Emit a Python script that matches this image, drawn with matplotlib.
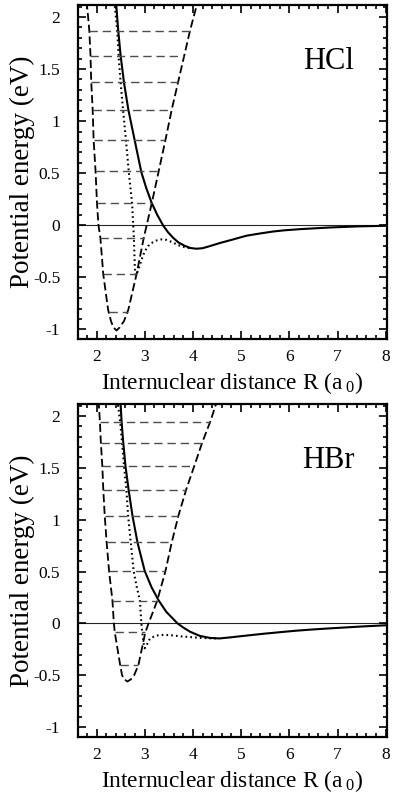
#!/usr/bin/env python3
"""
Potential energy curves of HCl and HBr vs internuclear distance
"""

import numpy as np
import matplotlib
matplotlib.use('Agg')
import matplotlib.pyplot as plt
from matplotlib.ticker import MultipleLocator

plt.rcParams['font.family'] = ['Liberation Serif', 'DejaVu Serif']
plt.rcParams['mathtext.fontset'] = 'custom'
plt.rcParams['mathtext.rm'] = 'Liberation Serif'
plt.rcParams['mathtext.it'] = 'Liberation Serif:italic'
plt.rcParams['axes.unicode_minus'] = False

# ---- HCl (top panel) ----
hcl_dash_R = [1.79, 1.81, 1.85, 1.875, 1.89, 1.92, 1.94, 1.98, 2.01, 2.04, 2.08,
              2.14, 2.24, 2.30, 2.35, 2.415, 2.48, 2.57, 2.66, 2.83, 2.98, 3.14,
              3.29, 3.43, 3.56, 3.69, 3.81, 3.94, 4.06, 4.10]
hcl_dash_E = [2.15, 2.08, 1.87, 1.63, 1.38, 1.11, 0.82, 0.52, 0.21, 0.0, -0.12,
              -0.47, -0.81, -0.92, -0.98, -1.01, -0.98, -0.92, -0.81, -0.47, -0.12, 0.20,
              0.52, 0.82, 1.11, 1.37, 1.61, 1.87, 2.08, 2.15]
hcl_solid_R = [2.40, 2.41, 2.45, 2.50, 2.57, 2.66, 2.79, 2.93, 3.03, 3.14, 3.26,
               3.38, 3.48, 3.59, 3.70, 3.83, 3.95, 4.07, 4.20, 4.35, 4.56, 4.80,
               5.11, 5.40, 5.66, 5.90, 6.22, 6.84, 7.46, 8.1]
hcl_solid_E = [2.15, 2.11, 1.87, 1.63, 1.37, 1.11, 0.82, 0.51, 0.36, 0.22, 0.10,
               0.0, -0.065, -0.12, -0.165, -0.197, -0.218, -0.225, -0.22, -0.20, -0.17, -0.14,
               -0.10, -0.078, -0.06, -0.048, -0.037, -0.021, -0.01, -0.004]
hcl_dot_R = [2.37, 2.38, 2.43, 2.46, 2.50, 2.55, 2.61, 2.67, 2.74, 2.775, 2.795, 2.81,
             2.86, 2.90, 2.95, 3.0, 3.07, 3.14, 3.25, 3.35, 3.45, 3.56, 3.69, 3.83, 3.95]
hcl_dot_E = [2.15, 2.10, 1.87, 1.61, 1.37, 1.11, 0.82, 0.51, 0.20, -0.12, -0.41, -0.48,
             -0.44, -0.38, -0.31, -0.25, -0.20, -0.17, -0.145, -0.135, -0.14, -0.16,
             -0.19, -0.21, -0.222]
hcl_levels = [-0.83, -0.47, -0.12, 0.21, 0.52, 0.82, 1.11, 1.38, 1.63, 1.87]

# ---- HBr (bottom panel) ----
hbr_dash_R = [2.04, 2.05, 2.07, 2.09, 2.12, 2.14, 2.17, 2.21, 2.26, 2.33, 2.36, 2.38,
              2.49, 2.53, 2.58, 2.64, 2.71, 2.78, 2.87, 3.01, 3.08, 3.26, 3.43, 3.56,
              3.70, 3.86, 4.03, 4.19, 4.36, 4.49]
hbr_dash_E = [2.15, 2.09, 1.945, 1.74, 1.52, 1.29, 1.04, 0.78, 0.505, 0.22, 0.0, -0.09,
              -0.40, -0.50, -0.54, -0.56, -0.54, -0.50, -0.40, -0.09, 0.0, 0.22,
              0.505, 0.78, 1.04, 1.29, 1.52, 1.74, 1.945, 2.13]
hbr_solid_R = [2.49, 2.50, 2.52, 2.555, 2.60, 2.665, 2.745, 2.85, 3.0, 3.14, 3.29,
               3.45, 3.68, 3.80, 3.94, 4.14, 4.35, 4.55, 4.77, 5.10, 5.46, 5.80,
               6.15, 6.50, 6.84, 7.20, 7.53, 8.1]
hbr_solid_E = [2.15, 2.11, 1.945, 1.74, 1.52, 1.29, 1.04, 0.78, 0.505, 0.35, 0.22,
               0.11, 0.0, -0.04, -0.08, -0.12, -0.14, -0.145, -0.135, -0.118, -0.10, -0.085,
               -0.07, -0.058, -0.048, -0.038, -0.029, -0.016]
hbr_dot_R = [2.44, 2.45, 2.49, 2.53, 2.57, 2.62, 2.655, 2.71, 2.77, 2.83, 2.90, 2.93,
             2.95, 2.98, 3.0, 3.05, 3.11, 3.20, 3.28, 3.40, 3.56, 3.75, 3.90, 4.10,
             4.25, 4.50]
hbr_dot_E = [2.15, 2.09, 1.945, 1.74, 1.52, 1.29, 1.04, 0.78, 0.505, 0.36, 0.22, 0.0,
             -0.09, -0.20, -0.24, -0.20, -0.145, -0.125, -0.115, -0.11, -0.115, -0.125,
             -0.13, -0.138, -0.142, -0.145]
hbr_levels = [-0.40, -0.087, 0.22, 0.505, 0.78, 1.04, 1.29, 1.52, 1.74, 1.945]

panels = [
    ('HCl', hcl_dash_R, hcl_dash_E, hcl_solid_R, hcl_solid_E, hcl_dot_R, hcl_dot_E, hcl_levels),
    ('HBr', hbr_dash_R, hbr_dash_E, hbr_solid_R, hbr_solid_E, hbr_dot_R, hbr_dot_E, hbr_levels),
]

fig = plt.figure(figsize=(3.93, 7.99), dpi=100)
ax_rects = [[0.199, 0.5753, 0.785, 0.4184], [0.199, 0.0776, 0.785, 0.4168]]

yticks = [-1, -0.5, 0, 0.5, 1, 1.5, 2]
yticklabels = ['-1', '-0.5', '0', '0.5', '1', '1.5', '2']
xticks = [2, 3, 4, 5, 6, 7, 8]

for rect, (name, dR, dE, sR, sE, oR, oE, levels) in zip(ax_rects, panels):
    ax = fig.add_axes(rect)
    dR = np.array(dR)
    dE = np.array(dE)
    imin = np.argmin(dE)

    ax.axhline(0, color='0.15', lw=0.8, zorder=1)
    ax.plot(dR, dE, color='black', lw=1.3, linestyle=(0, (4.5, 2.0)))
    ax.plot(sR, sE, color='black', lw=1.5)
    ax.plot(oR, oE, color='black', lw=1.5, linestyle=(0, (0.8, 1.5)))

    # vibrational levels span the dashed well
    left_R, left_E = dR[:imin + 1][::-1], dE[:imin + 1][::-1]
    right_R, right_E = dR[imin:], dE[imin:]
    for lev in levels:
        r1 = np.interp(lev, left_E, left_R)
        r2 = np.interp(lev, right_E, right_R)
        ax.plot([r1, r2], [lev, lev], color='0.3', lw=1.0, linestyle=(0, (6, 3.5)))

    ax.set_xlim(1.62, 8.02)
    ax.set_ylim(-1.095, 2.115)
    ax.set_xticks(xticks)
    ax.set_xticklabels([str(x) for x in xticks])
    ax.set_yticks(yticks)
    ax.set_yticklabels(yticklabels)
    ax.xaxis.set_minor_locator(MultipleLocator(0.2))
    ax.yaxis.set_minor_locator(MultipleLocator(0.1))
    ax.tick_params(which='both', direction='in', top=True, right=True,
                   labelsize=12.5, width=1.2)
    ax.tick_params(axis='x', which='both', pad=7)
    ax.tick_params(axis='y', which='both', pad=13)
    ax.tick_params(which='major', length=5.5)
    ax.tick_params(which='minor', length=2.8)
    for sp in ax.spines.values():
        sp.set_linewidth(1.6)

    ax.set_xlabel(r'Internuclear distance R (a$_{\ \mathrm{0}}$)', fontsize=16.8)
    ax.xaxis.set_label_coords(0.5, -0.093)
    ax.set_ylabel('Potential energy (eV)', fontsize=19.5)
    ax.yaxis.set_label_coords(-0.14, 0.5)
    ax.text(0.81, 0.83, name, transform=ax.transAxes, fontsize=22,
            ha='center', va='center')

fig.savefig('out.png', dpi=100)
